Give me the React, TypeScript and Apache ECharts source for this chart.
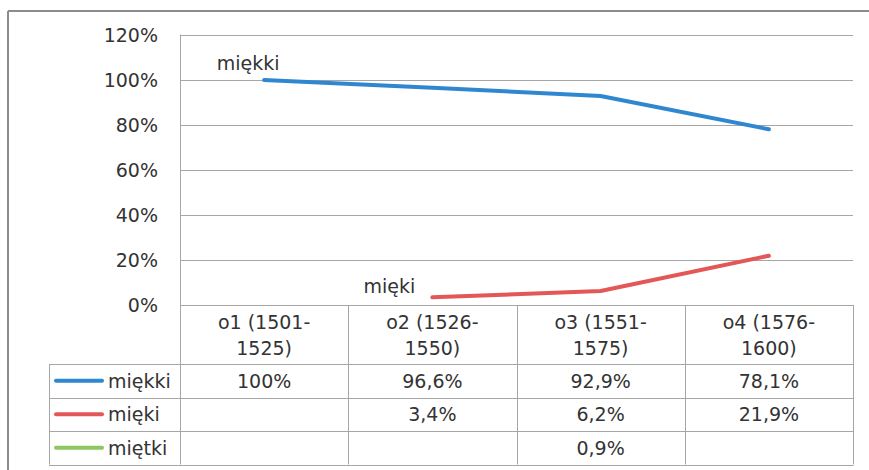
import React, { useEffect, useRef } from "react";
import * as echarts from "echarts";

const categories = ["o1 (1501-1525)", "o2 (1526-1550)", "o3 (1551-1575)", "o4 (1576-1600)"];
const seriesNames = ["miękki", "mięki", "miętki"];
const miekkiValues: (number | null)[] = [100, 96.6, 92.9, 78.1];
const miekiValues: (number | null)[] = [null, 3.4, 6.2, 21.9];
const mietkiValues: (number | null)[] = [null, null, 0.9, null];
const yTicks = [0, 20, 40, 60, 80, 100, 120];

const seriesValues = [miekkiValues, miekiValues, mietkiValues];
const colors = ["#2F88CF", "#E35757", "#8CC762"];
const FONT = "DejaVu Sans";
const TEXT = "#333333";
const GRID = "#A6A6A6";

function fmt(v: number | null): string {
  if (v == null) return "";
  const r = Math.round(v * 10) / 10;
  const s = Number.isInteger(r) ? String(r) : r.toFixed(1).replace(".", ",");
  return s + "%";
}

export default function App() {
  const ref = useRef<HTMLDivElement>(null);
  useEffect(() => {
    if (!ref.current) return;
    const chart = echarts.init(ref.current, undefined, { renderer: "svg" });
    const W = 869;
    const H = 470;
    const gl = 180, gr = 16, gt = 35, gb = 165;
    const plotRight = W - gr;
    const axisY = H - gb;
    const colW = (plotRight - gl) / categories.length;
    const headerBottom = 364;
    const rowH = 33.5;
    const legendLeft = 49;
    const tableBottom = headerBottom + rowH * 3;

    const labelOffsets: [number, number][] = [[-16, -17], [-43, -11], [0, 0]];

    const series = seriesValues.map((vals, si) => {
      const firstIdx = vals.findIndex((v) => v != null);
      return {
        type: "line",
        name: seriesNames[si],
        data: vals.map((v, i) =>
          i === firstIdx && si < 2
            ? {
                value: v,
                label: {
                  show: true,
                  formatter: seriesNames[si],
                  position: labelOffsets[si],
                  align: "center",
                  verticalAlign: "middle",
                  color: TEXT,
                  fontSize: 19,
                  fontFamily: FONT,
                },
              }
            : v
        ),
        symbol: si === 2 ? "none" : "circle",
        symbolSize: 0.01,
        showSymbol: si !== 2,
        itemStyle: { color: "rgba(0,0,0,0)" },
        lineStyle: { color: colors[si], width: 4, cap: "round", join: "round" },
        silent: true,
      };
    });

    const g: any[] = [];
    // outer border
    g.push({ type: "line", shape: { x1: 8, y1: 11, x2: W, y2: 11 }, style: { stroke: "#8C8C8C", lineWidth: 2 } });
    g.push({ type: "line", shape: { x1: 8, y1: 11, x2: 8, y2: H }, style: { stroke: "#8C8C8C", lineWidth: 2 } });
    // table verticals
    for (let c = 0; c <= categories.length; c++) {
      const x = Math.round(gl + c * colW) + 0.5;
      g.push({ type: "line", shape: { x1: x, y1: axisY, x2: x, y2: tableBottom }, style: { stroke: GRID, lineWidth: 1 } });
    }
    g.push({ type: "line", shape: { x1: legendLeft + 0.5, y1: headerBottom, x2: legendLeft + 0.5, y2: tableBottom }, style: { stroke: GRID, lineWidth: 1 } });
    // table horizontals
    for (let r = 0; r <= 3; r++) {
      const y = Math.round(headerBottom + r * rowH) + 0.5;
      g.push({ type: "line", shape: { x1: legendLeft, y1: y, x2: plotRight + 0.5, y2: y }, style: { stroke: GRID, lineWidth: 1 } });
    }
    // header texts
    categories.forEach((cat, c) => {
      const cx = gl + (c + 0.5) * colW;
      const cut = cat.indexOf("-") + 1;
      const l1 = cat.slice(0, cut);
      const l2 = cat.slice(cut);
      g.push({ type: "text", x: cx, y: 322, style: { text: l1, fontSize: 19, fontFamily: FONT, fill: TEXT, align: "center", verticalAlign: "middle" } });
      g.push({ type: "text", x: cx, y: 348, style: { text: l2, fontSize: 19, fontFamily: FONT, fill: TEXT, align: "center", verticalAlign: "middle" } });
    });
    // rows
    seriesValues.forEach((vals, si) => {
      const cy = headerBottom + (si + 0.5) * rowH;
      g.push({ type: "line", shape: { x1: 56, y1: cy, x2: 102, y2: cy }, style: { stroke: colors[si], lineWidth: 4, lineCap: "round" } });
      g.push({ type: "text", x: 108, y: cy, style: { text: seriesNames[si], fontSize: 19, fontFamily: FONT, fill: TEXT, align: "left", verticalAlign: "middle" } });
      vals.forEach((v, c) => {
        if (v == null) return;
        const cx = gl + (c + 0.5) * colW;
        g.push({ type: "text", x: cx, y: cy, style: { text: fmt(v), fontSize: 19, fontFamily: FONT, fill: TEXT, align: "center", verticalAlign: "middle" } });
      });
    });

    chart.setOption({
      animation: false,
      backgroundColor: "#FFFFFF",
      grid: { left: gl, right: gr, top: gt, bottom: gb, containLabel: false },
      xAxis: {
        type: "category",
        data: categories,
        boundaryGap: true,
        axisLine: { show: false },
        axisTick: { show: false },
        axisLabel: { show: false },
        splitLine: { show: false },
      },
      yAxis: {
        type: "value",
        min: yTicks[0],
        max: yTicks[yTicks.length - 1],
        interval: 20,
        axisLine: { show: true, lineStyle: { color: GRID, width: 1 } },
        axisTick: { show: false },
        axisLabel: { formatter: "{value}%", color: TEXT, fontSize: 19, fontFamily: FONT, margin: 22 },
        splitLine: { show: true, lineStyle: { color: GRID, width: 1 } },
      },
      series,
      graphic: g,
    });
    return () => chart.dispose();
  }, []);
  return <div ref={ref} style={{ position: "absolute", left: 0, top: 0, width: 869, height: 470 }} />;
}
